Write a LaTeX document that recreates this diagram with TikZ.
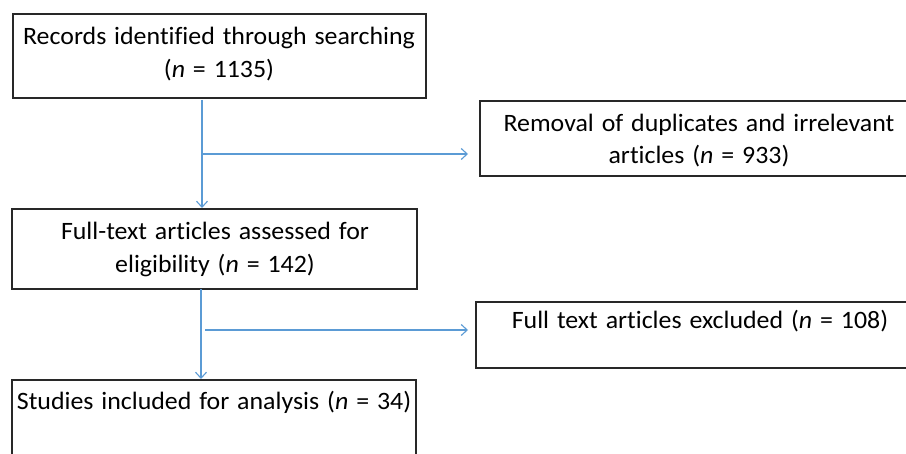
\documentclass[tikz,border=0pt]{standalone}
\usepackage{fontspec}
\setmainfont[Ligatures=NoCommon, FakeStretch=1.035, WordSpace=1.35]{Carlito}
\usetikzlibrary{arrows.meta}
\definecolor{arrowblue}{RGB}{91,155,213}
\definecolor{boxline}{RGB}{40,40,40}
\tikzset{
  box/.style={draw=boxline, line width=1.4pt, rectangle, inner sep=0pt},
  txt/.style={anchor=base, inner sep=0pt, font=\fontsize{25}{33}\selectfont, text=black},
  conn/.style={draw=arrowblue, line width=1.1pt, -{Straight Barb[length=6pt,width=11pt,line width=1.1pt]}}
}
\begin{document}
\begin{tikzpicture}[x=1pt,y=-1pt]
\useasboundingbox[fill=white] (0,0) rectangle (906,454);
% boxes
\node[box, minimum width=413pt, minimum height=84pt] (b1) at (219.5,56) {};
\node[box, minimum width=405pt, minimum height=80pt] (b2) at (214.5,249) {};
\node[box, minimum width=440pt, minimum height=75pt] (b3) at (700,138.5) {};
\node[box, minimum width=450pt, minimum height=66pt] (b4) at (701,335) {};
\node[box, minimum width=404pt, minimum height=120pt] (b5) at (214,440) {};
% texts
\node[txt] (t1a) at (219,45) {Records identified through searching};
\node[txt] (t1b) at (219,78) {(\textit{n} = 1135)};
\node[txt] (t2a) at (215,240) {Full-text articles assessed for};
\node[txt] (t2b) at (215,273) {eligibility (\textit{n} = 142)};
\node[txt] (t3a) at (699,132) {Removal of duplicates and irrelevant};
\node[txt] (t3b) at (699,164) {articles (\textit{n} = 933)};
\node[txt] (t4) at (700,329) {Full text articles excluded (\textit{n} = 108)};
\node[txt] (t5) at (214,410) {Studies included for analysis (\textit{n} = 34)};
% connector points
\coordinate (v1s) at (202,100);
\coordinate (v1e) at (202,208);
\coordinate (h1s) at (202,154);
\coordinate (h1e) at (468,154);
\coordinate (v2s) at (201,289);
\coordinate (v2e) at (201,379);
\coordinate (h2s) at (205,330);
\coordinate (h2e) at (468,330);
\draw[conn] (v1s) -- (v1e);
\draw[conn] (h1s) -- (h1e);
\draw[conn] (v2s) -- (v2e);
\draw[conn] (h2s) -- (h2e);
\end{tikzpicture}
\end{document}
